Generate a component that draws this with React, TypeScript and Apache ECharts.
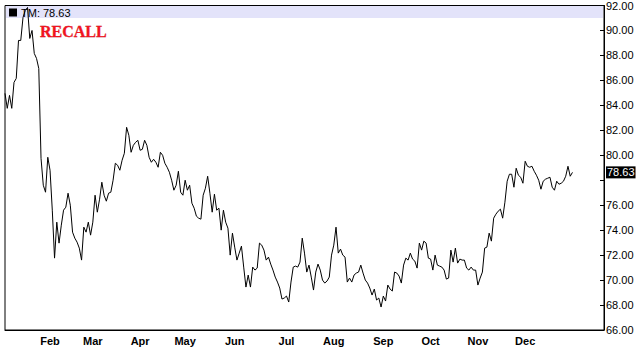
import React, { useEffect, useRef } from "react";
import * as echarts from "echarts";

// Daily closing values (trading days)
const values: number[] = [
  84.96, 83.76, 84.8, 83.76, 85.84, 86.16, 89.2, 89.2, 91.04, 91.6,
  91.84, 89.36, 90.0, 88.16, 87.76, 86.96, 79.76, 77.6, 77.04, 79.84,
  78.8, 75.6, 71.76, 74.64, 72.96, 74.4, 75.6, 75.84, 76.96, 76.0,
  73.84, 73.36, 73.04, 72.56, 71.6, 74.24, 73.84, 74.64, 73.6, 74.64,
  76.8, 75.44, 76.48, 77.84, 76.8, 76.32, 76.96, 77.04, 78.0, 79.36,
  79.2, 78.8, 79.6, 80.16, 82.24, 81.6, 80.24, 80.8, 81.04, 81.2,
  80.4, 80.48, 81.2, 80.8, 79.84, 79.44, 79.68, 79.44, 79.04, 80.24,
  80.0, 79.36, 79.04, 78.64, 78.0, 77.2, 77.6, 78.72, 77.04, 76.8,
  78.0, 77.2, 77.6, 76.16, 75.76, 75.12, 74.96, 74.88, 76.8, 77.36,
  78.32, 76.96, 75.44, 76.88, 75.6, 75.76, 74.0, 75.6, 74.64, 74.16,
  72.0, 73.76, 72.64, 71.6, 72.16, 72.72, 71.04, 69.44, 70.4, 69.44,
  71.04, 70.8, 70.96, 72.96, 72.8, 72.4, 71.6, 71.84, 71.28, 70.8,
  70.24, 69.84, 69.36, 68.48, 68.56, 68.72, 68.24, 69.84, 71.04, 71.12,
  71.04, 71.44, 73.36, 72.16, 70.64, 71.2, 70.24, 69.2, 70.64, 71.28,
  70.8, 70.0, 69.76, 69.92, 70.24, 72.0, 72.8, 74.24, 72.16, 72.48,
  72.0, 71.84, 69.84, 70.16, 69.84, 70.4, 70.56, 70.64, 71.2, 70.56,
  70.0, 69.76, 69.36, 68.8, 69.28, 68.4, 68.56, 67.84, 68.72, 68.32,
  69.6, 69.28, 69.12, 70.64, 70.56, 70.32, 69.76, 71.2, 71.76, 71.6,
  72.16, 71.68, 71.52, 70.96, 72.96, 72.4, 73.12, 72.96, 71.76, 71.68,
  70.8, 72.0, 71.2, 71.12, 71.04, 70.8, 70.08, 70.16, 72.4, 71.44,
  72.56, 71.36, 71.68, 71.6, 71.6, 70.96, 70.8, 71.04, 70.8, 70.8,
  69.6, 70.16, 70.64, 72.56, 72.64, 73.76, 73.12, 74.96, 75.28, 75.52,
  75.68, 74.96, 76.24, 77.92, 78.48, 78.48, 77.44, 78.96, 78.4, 78.24,
  77.76, 79.52, 79.12, 79.04, 79.12, 78.72, 78.4, 78.0, 77.28, 77.92,
  78.08, 78.16, 78.24, 77.44, 77.2, 77.92, 77.68, 77.76, 77.92, 78.32,
  79.12, 78.32, 78.63,
];

// Total trading-day slots on the axis (the axis extends past the last value)
const totalSlots = 267;

// Month tick labels and the trading-day index where each month starts
const monthLabels: string[] = ["Feb", "Mar", "Apr", "May", "Jun", "Jul", "Aug", "Sep", "Oct", "Nov", "Dec"];
const monthStarts: number[] = [20, 39, 60, 80, 102, 125, 146, 168, 189, 210, 231];

const seriesName = "TM";
const lastValue = 78.63;
const yMin = 66;
const yMax = 92;
const yStep = 2;

export default function App() {
  const ref = useRef<HTMLDivElement>(null);

  useEffect(() => {
    if (!ref.current) return;
    const chart = echarts.init(ref.current, undefined, { renderer: "svg" });
    const categories = Array.from({ length: totalSlots }, (_, i) => String(i));

    chart.setOption({
      animation: false,
      backgroundColor: "#ffffff",
      grid: {
        left: 5,
        right: 34,
        top: 5,
        bottom: 20,
        show: true,
        borderColor: "#000",
        borderWidth: 1,
        backgroundColor: "transparent",
      },
      legend: {
        show: true,
        left: 9,
        top: 7,
        icon: "rect",
        itemWidth: 8,
        itemHeight: 8,
        itemGap: 4,
        padding: 0,
        formatter: () => `${seriesName}: ${lastValue.toFixed(2)}`,
        textStyle: { fontFamily: "Liberation Sans", fontSize: 11, color: "#000", padding: [1, 0, 0, -1] },
        z: 5,
      },
      graphic: [
        {
          type: "rect",
          z: -1,
          silent: true,
          shape: { x: 6, y: 6, width: 597, height: 12 },
          style: { fill: "#e3e3fa" },
        },
        {
          type: "text",
          z: 10,
          x: 40,
          y: 23,
          style: {
            text: "RECALL",
            fill: "#f2141e",
            font: "bold 16px 'Liberation Serif'",
            stroke: "#b00010",
            lineWidth: 0.3,
          },
        },
      ],
      xAxis: {
        type: "category",
        data: categories,
        boundaryGap: false,
        axisLine: { show: true, lineStyle: { color: "#000", width: 1 } },
        axisTick: { show: false },
        splitLine: { show: false },
        axisLabel: {
          interval: (idx: number) => monthStarts.includes(idx),
          formatter: (_v: string, idx: number) => {
            const k = monthStarts.indexOf(idx);
            return k >= 0 ? monthLabels[k] : "";
          },
          fontFamily: "Liberation Sans",
          fontWeight: "bold",
          fontSize: 11,
          color: "#000",
          margin: 5,
        },
      },
      yAxis: {
        type: "value",
        position: "right",
        min: yMin,
        max: yMax,
        interval: yStep,
        axisLine: { show: true, lineStyle: { color: "#000", width: 1 } },
        axisTick: { show: true, inside: true, length: 4, lineStyle: { color: "#000" } },
        splitLine: { show: false },
        axisLabel: {
          formatter: (v: number) => (Math.abs(v - 78) < 1e-6 ? "" : v.toFixed(2)),
          fontFamily: "Liberation Sans",
          fontSize: 11,
          color: "#000",
          margin: 2,
        },
      },
      series: [
        {
          name: seriesName,
          type: "line",
          data: values,
          showSymbol: false,
          symbol: "none",
          lineStyle: { color: "#000", width: 1 },
          itemStyle: { color: "#000" },
          z: 3,
          markLine: {
            silent: true,
            symbol: "none",
            animation: false,
            lineStyle: { color: "rgba(0,0,0,0)", width: 0, type: "solid" },
            label: {
              show: true,
              position: "end",
              distance: 2,
              opacity: 1,
              formatter: () => lastValue.toFixed(2),
              color: "#fff",
              backgroundColor: "#000",
              padding: [1, 1, 0, 1],
              fontFamily: "Liberation Sans",
              fontSize: 11,
            },
            data: [{ yAxis: lastValue }],
          },
        },
      ],
    });

    return () => chart.dispose();
  }, []);

  return (
    <div
      ref={ref}
      style={{ position: "fixed", left: 0, top: 0, width: 638, height: 350, background: "#fff" }}
    />
  );
}
